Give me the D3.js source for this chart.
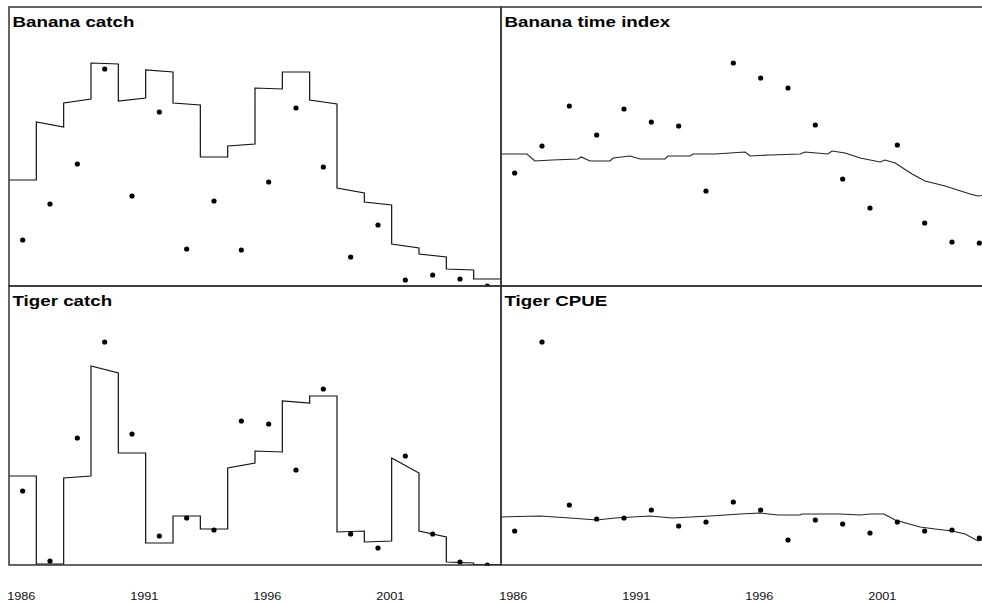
<!DOCTYPE html>
<html><head><meta charset="utf-8">
<script src="https://cdn.jsdelivr.net/npm/d3@7"></script>
<style>html,body{margin:0;padding:0;background:#fff;}svg{display:block;}</style>
</head><body>
<svg id="chart" width="982" height="603"></svg>
<script>
// ---- data ----
const years = [1986,1987,1988,1989,1990,1991,1992,1993,1994,1995,1996,1997,1998,1999,2000,2001,2002,2003];
const tickYears = [1986, 1991, 1996, 2001];

const bananaCatch    = [920,1640,2440,4340,1800,3480,740,1700,720,2080,3560,2380,580,1220,120,220,140,0];
const bananaFitStart = [2120,3280,3660,4460,3700,4320,3660,2580,2800,3960,4280,3720,1960,1680,840,640,340,140];
const bananaFitEnd   = [2120,3180,3740,4440,3760,4280,3620,2580,2840,3940,4280,3640,1860,1620,760,580,320,140];

const tigerCatch    = [740,40,1270,2230,1310,290,470,350,1440,1410,950,1760,310,170,1090,310,30,0];
const tigerFitStart = [890,10,870,1990,1120,220,490,360,970,1140,1640,1690,330,230,1070,340,30,5];
const tigerFitEnd   = [890,10,890,1920,1120,220,490,360,1020,1130,1620,1690,340,240,920,280,20,5];

const bananaIndex = [1.13,1.40,1.80,1.51,1.77,1.64,1.60,0.95,2.23,2.08,1.98,1.61,1.07,0.78,1.41,0.63,0.44,0.43];
const bananaTrendYear = [1985.5,1986.45,1986.74,1987.37,1988.32,1988.43,1988.76,1989.49,1989.6,1990.22,1990.59,1991.5,1991.61,1992.42,1992.53,1993.33,1994.43,1994.61,1995.34,1996.44,1996.62,1997.46,1997.61,1998.09,1998.64,1999.37,1999.55,1999.92,2000.54,2001.01,2001.75,2002.66,2002.95,2003.5];
const bananaTrend     = [1.32,1.32,1.25,1.26,1.27,1.29,1.25,1.25,1.28,1.30,1.27,1.27,1.30,1.30,1.32,1.32,1.34,1.30,1.31,1.32,1.34,1.32,1.35,1.33,1.28,1.24,1.26,1.23,1.12,1.05,1.00,0.92,0.90,0.92];

const tigerCPUE = [3.4,22.3,6.0,4.6,4.7,5.5,3.9,4.3,6.3,5.5,2.5,4.5,4.1,3.2,4.3,3.4,3.5,2.7];
const cpueTrendYear = [1985.5,1986.93,1988.02,1989.01,1989.67,1990.95,1991.76,1993.15,1994.25,1994.98,1995.64,1996.44,1996.51,1997.9,1998.64,1999.0,1999.51,1999.92,2000.83,2001.38,2002.0,2002.48,2002.95,2003.5];
const cpueTrend     = [4.8,4.9,4.7,4.5,4.7,4.9,4.7,4.9,5.1,5.2,5.0,5.0,5.1,5.1,5.0,5.1,5.1,4.5,3.8,3.6,3.4,3.1,2.4,2.8];

const titles = ["Banana catch", "Banana time index", "Tiger catch", "Tiger CPUE"];

// ---- layout ----
const svg = d3.select("#chart");
const cols = [[9, 501], [501, 993]];
const rows = [[7, 286], [286, 565]];
const textScale = 1.25;

const panels = [
  {title: titles[0], col: 0, row: 0, ymax: 5580, dots: bananaCatch, step: [bananaFitStart, bananaFitEnd]},
  {title: titles[1], col: 1, row: 0, ymax: 2.79, dots: bananaIndex, trend: [bananaTrendYear, bananaTrend]},
  {title: titles[2], col: 0, row: 1, ymax: 2790, dots: tigerCatch, step: [tigerFitStart, tigerFitEnd]},
  {title: titles[3], col: 1, row: 1, ymax: 27.9, dots: tigerCPUE, trend: [cpueTrendYear, cpueTrend]}
];

panels.forEach((p, idx) => {
  const [x0, x1] = cols[p.col];
  const [y0, y1] = rows[p.row];
  const x = d3.scaleLinear().domain([1985.5, 2003.5]).range([x0, x1]);
  const y = d3.scaleLinear().domain([0, p.ymax]).range([y1, y0]);
  const g = svg.append("g");
  const cid = "clip" + idx;
  svg.append("clipPath").attr("id", cid).append("rect")
    .attr("x", x0).attr("y", y0 - 1).attr("width", x1 - x0).attr("height", y1 - y0 + 2);
  const inner = g.append("g").attr("clip-path", `url(#${cid})`);

  const line = d3.line().x(d => x(d[0])).y(d => y(d[1]));
  if (p.step) {
    const pts = [];
    years.forEach((yr, i) => {
      pts.push([yr - 0.5, p.step[0][i]]);
      pts.push([yr + 0.5, p.step[1][i]]);
    });
    inner.append("path").attr("d", line(pts))
      .attr("fill", "none").attr("stroke", "#111").attr("stroke-width", 1.2);
  }
  if (p.trend) {
    const pts = p.trend[0].map((t, i) => [t, p.trend[1][i]]);
    inner.append("path").attr("d", line(pts))
      .attr("fill", "none").attr("stroke", "#222").attr("stroke-width", 1.1);
  }
  inner.selectAll("circle").data(p.dots).enter().append("circle")
    .attr("cx", (d, i) => x(years[i])).attr("cy", d => y(d))
    .attr("r", 2.6).attr("fill", "#000");

  g.append("rect").attr("x", x0).attr("y", y0).attr("width", x1 - x0).attr("height", y1 - y0)
    .attr("fill", "none").attr("stroke", "#333").attr("stroke-width", 1.5);

  g.append("text")
    .attr("transform", `translate(${x0 + 3.5},${y0 + 20}) scale(${textScale},1)`)
    .attr("font-family", "Liberation Sans, Arial, sans-serif")
    .attr("font-weight", "bold").attr("font-size", 15).attr("fill", "#000")
    .text(p.title);

  if (p.row === 1) {
    const xl = d3.scaleLinear().domain([1985.5, 2005.5]).range([x0, x1]);
    g.selectAll("text.tick").data(tickYears).enter().append("text")
      .attr("class", "tick")
      .attr("transform", d => `translate(${xl(d)},600) scale(1.27,1)`)
      .attr("text-anchor", "middle")
      .attr("font-family", "Liberation Sans, Arial, sans-serif")
      .attr("font-size", 10).attr("fill", "#111")
      .text(d => d);
  }
});
</script>
</body></html>
